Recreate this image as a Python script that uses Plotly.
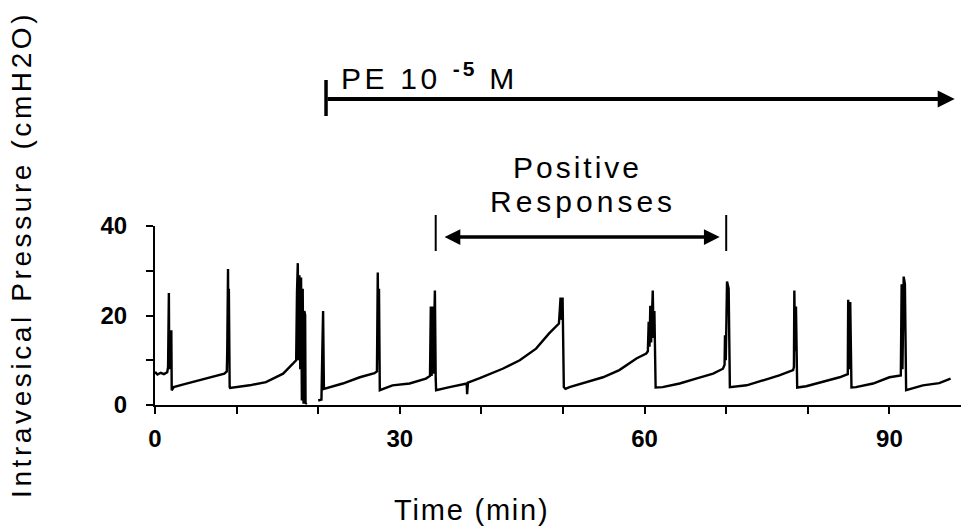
import plotly.graph_objects as go

# ---- data ----
time_min = [
    0.0, 0.3, 0.7, 1.1, 1.5, 1.6, 1.7, 1.75, 1.8, 1.9, 2.0, 2.05, 2.3, 3.5, 5.45, 7.0, 8.5,
    8.8, 8.85, 8.95, 9.0, 9.05, 9.15, 9.2, 11.6, 13.6, 15.7, 17.3,
    17.4, 17.5, 17.6, 17.7, 17.8, 17.9, 18.0, 18.1, 18.2, 18.3, 18.4, 18.45, 18.6,
    None,
    20.0, 20.4, 20.5, 20.6, 20.7, 21.5, 23.0, 25.1, 26.9,
    27.2, 27.3, 27.4, 27.45, 27.55, 29.1, 31.2, 33.2, 33.7,
    33.8, 33.9, 34.0, 34.1, 34.3, 34.4, 34.45, 36.1, 38.2, 38.25, 38.35, 39.8,
    40.6, 42.6, 44.7, 46.7, 48.3, 49.5,
    49.6, 49.7, 49.85, 49.95, 50.1, 50.3, 50.8, 52.8, 54.9, 56.9, 59.0, 60.2,
    60.4, 60.5, 60.6, 60.7, 60.8, 61.0, 61.1, 61.2, 61.35, 62.2, 64.3, 66.3, 68.4, 69.6,
    69.8, 69.85, 69.95, 70.0, 70.1, 70.3, 70.45, 72.5, 74.5, 76.5, 78.2,
    78.3, 78.35, 78.45, 78.55, 78.7, 79.8, 81.8, 83.9, 84.9,
    84.95, 85.1, 85.2, 85.35, 85.9, 88.0, 90.0, 91.4,
    91.5, 91.6, 91.75, 91.9, 92.05, 94.1, 96.1, 97.5,
]
pressure_cmh2o = [
    7.4, 6.8, 7.2, 6.9, 7.3, 8.5, 25.0, 8.0, 16.7, 14.0, 16.7, 3.3, 4.0, 4.6, 5.5, 6.3, 7.0,
    7.5, 11.7, 30.4, 10.0, 26.0, 4.0, 3.8, 4.4, 5.1, 7.0, 10.0,
    25.0, 31.7, 10.0, 29.0, 8.0, 28.5, 1.0, 26.0, 0.3, 21.0, 20.1, 0.3, 0.5,
    None,
    1.0, 1.2, 11.6, 21.0, 3.6, 4.0, 4.8, 6.2, 7.1,
    7.5, 29.6, 10.0, 26.0, 3.3, 4.4, 4.8, 5.9, 6.5,
    22.0, 6.5, 22.0, 7.0, 25.6, 6.0, 3.3, 4.0, 4.8, 2.4, 5.0, 6.0,
    6.6, 8.1, 10.0, 12.6, 16.0, 18.2,
    21.0, 24.0, 19.0, 24.0, 4.0, 3.6, 4.0, 5.1, 6.2, 7.8, 10.4, 11.5,
    12.0, 18.6, 13.0, 22.2, 14.0, 25.6, 15.0, 21.0, 3.9, 4.0, 4.8, 5.9, 7.0, 8.1,
    9.0, 15.6, 10.0, 15.6, 27.6, 26.0, 4.0, 4.4, 5.5, 6.6, 7.8,
    8.5, 25.6, 12.0, 22.0, 3.9, 4.2, 5.1, 6.2, 6.9,
    23.5, 8.0, 23.0, 3.9, 4.0, 4.8, 6.2, 6.6,
    27.0, 8.0, 28.7, 27.0, 3.3, 4.4, 4.9, 5.9,
]

x_tick_vals = [0, 10, 20, 30, 40, 50, 60, 70, 80, 90]
x_tick_text = ["0", "", "", "30", "", "", "60", "", "", "90"]
y_tick_vals = [0, 10, 20, 30, 40]
y_tick_text = ["0", "", "20", "", "40"]

pe_start, pe_end = 20.96, 98.0          # min, PE 10^-5 M application
resp_start, resp_end = 34.4, 70.0       # min, positive responses window

# ---- layout geometry ----
W, H = 962, 529
ML, MR, MT, MB = 155, 1, 226, 124
PW, PH = W - ML - MR, H - MT - MB


def px_x(px):
    return (px - ML) / PW


def px_y(py):
    return (H - MB - py) / PH


FONT = "Liberation Sans, Arial, Helvetica, sans-serif"


def spaced(txt, ls):
    return f'<span style="letter-spacing:{ls}px">{txt}</span>'


fig = go.Figure()
fig.add_trace(go.Scatter(
    x=time_min, y=pressure_cmh2o, mode="lines",
    line=dict(color="black", width=2.4), connectgaps=False,
    hoverinfo="skip", showlegend=False,
))

fig.update_layout(
    width=W, height=H,
    margin=dict(l=ML, r=MR, t=MT, b=MB, pad=0),
    paper_bgcolor="white", plot_bgcolor="white",
    showlegend=False,
    font=dict(family=FONT, color="black"),
    xaxis=dict(
        range=[0, PW / 8.16], tickvals=x_tick_vals, ticktext=x_tick_text,
        showline=True, linecolor="black", linewidth=2,
        ticks="outside", ticklen=7, tickwidth=2, tickcolor="black",
        showgrid=False, zeroline=False,
        tickfont=dict(family=FONT, size=24, weight="bold", color="black"),
        ticklabelstandoff=4,
    ),
    yaxis=dict(
        range=[0, 40], tickvals=y_tick_vals, ticktext=y_tick_text,
        showline=True, linecolor="black", linewidth=2,
        ticks="outside", ticklen=7, tickwidth=2, tickcolor="black",
        showgrid=False, zeroline=False,
        tickfont=dict(family=FONT, size=24, weight="bold", color="black"),
        ticklabelstandoff=14,
    ),
)

annotations = [
    # axis titles
    dict(text=spaced("Intravesical Pressure (cmH2O)", 3.6), xref="paper", yref="paper",
         x=px_x(21), y=px_y(255), xanchor="center", yanchor="middle", textangle=-90,
         showarrow=False, font=dict(size=28)),
    dict(text=spaced("Time (min)", 1.8), xref="paper", yref="paper",
         x=px_x(471), y=px_y(510), xanchor="center", yanchor="middle",
         showarrow=False, font=dict(size=29)),
    # PE label and arrow
    dict(text=spaced("PE 10 ", 3.6) + spaced("<sup><b>-5</b></sup>", 3) + spaced(" M", 3.5),
         xref="paper", yref="paper", x=px_x(339), y=px_y(76),
         xanchor="left", yanchor="middle", showarrow=False, font=dict(size=30)),
    dict(text="", xref="x", yref="paper", x=pe_end, y=px_y(99),
         axref="x", ax=pe_start, ayref="pixel", ay=0,
         showarrow=True, arrowhead=2, arrowsize=0.85, arrowwidth=4, arrowcolor="black",
         standoff=0, startstandoff=0),
    # Positive responses label and arrow
    dict(text=spaced("Positive", 3.0), xref="paper", yref="paper",
         x=px_x(577), y=px_y(167), xanchor="center", yanchor="middle",
         showarrow=False, font=dict(size=30)),
    dict(text=spaced("Responses", 4.0), xref="paper", yref="paper",
         x=px_x(583), y=px_y(201), xanchor="center", yanchor="middle",
         showarrow=False, font=dict(size=30)),
    dict(text="", xref="x", yref="paper", x=resp_end - 0.8, y=px_y(237),
         axref="x", ax=resp_start + 0.9, ayref="pixel", ay=0,
         showarrow=True, arrowhead=2, startarrowhead=2, arrowside="end+start",
         arrowsize=0.9, startarrowsize=0.9, arrowwidth=3.5, arrowcolor="black",
         standoff=0, startstandoff=0),
]
fig.update_layout(annotations=annotations)

shapes = [
    dict(type="line", xref="x", yref="paper", x0=pe_start, x1=pe_start,
         y0=px_y(116), y1=px_y(80), line=dict(color="black", width=3.5)),
    dict(type="line", xref="x", yref="paper", x0=resp_start, x1=resp_start,
         y0=px_y(251), y1=px_y(215), line=dict(color="black", width=2)),
    dict(type="line", xref="x", yref="paper", x0=resp_end, x1=resp_end,
         y0=px_y(251), y1=px_y(215), line=dict(color="black", width=2)),
]
fig.update_layout(shapes=shapes)

fig.write_html(
    "out.html",
    config={"displayModeBar": False},
    post_script="document.body.style.margin='0';document.body.style.overflow='hidden';",
)
